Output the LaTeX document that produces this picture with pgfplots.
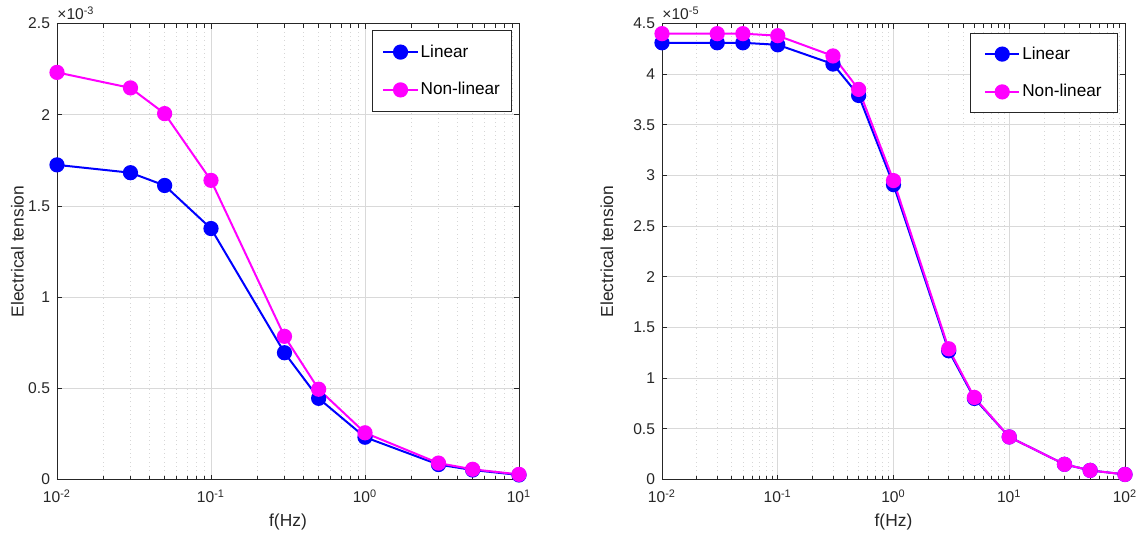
\documentclass[border=0pt]{standalone}
\usepackage{pgfplots}
\pgfplotsset{compat=1.18}
\usepackage{fontspec}
\setmainfont{Liberation Sans}

\definecolor{gridc}{gray}{0.85}
\definecolor{mgridc}{gray}{0.84}
\definecolor{axc}{gray}{0.15}
\definecolor{lblue}{rgb}{0,0,1}
\definecolor{lmag}{rgb}{1,0,1}

\begin{document}
\begin{tikzpicture}
\useasboundingbox (-28.5pt,-29.25pt) rectangle (541.5pt,239.75pt);

\begin{axis}[at={(0,0)}, anchor=south west, clip=false,
  scale only axis, width=231pt, height=228pt, xmode=log,
  axis line style={axc, line width=0.4pt},
  tick style={axc, line width=0.4pt},
  major tick length=2.5pt, minor tick length=2pt,
  xmajorgrids, ymajorgrids, xminorgrids,
  major grid style={gridc, line width=0.4pt},
  minor grid style={mgridc, line width=0.35pt, dash pattern=on 0.35pt off 1.8pt},
  tick label style={font=\fontsize{7.8}{9}\selectfont, text=axc},
  xticklabel style={yshift=-1.5pt},
  label style={font=\fontsize{8.7}{10}\selectfont, text=axc},
  xlabel={f(Hz)}, ylabel={Electrical tension},
  xlabel style={at={(axis description cs:0.5,-0.093)}, anchor=center},
  ylabel style={at={(axis description cs:-0.0855,0.5)}, anchor=center},
  legend style={at={(axis description cs:0.985,0.986)}, anchor=north east,
    font=\fontsize{8.6}{10}\selectfont, draw=axc, line width=0.4pt,
    inner xsep=4.85pt, inner ysep=4.9pt, row sep=6.9pt, text=black,
    nodes={inner xsep=1pt, inner ysep=2pt, text height=6.5pt, text depth=1.5pt}},
  legend cell align=left,
  xmin=0.01, xmax=10, ymin=0, ymax=2.5,
  xtick={0.01,0.1,1,10},
  xticklabels={10\textsuperscript{-2},10\textsuperscript{-1},10\textsuperscript{0},10\textsuperscript{1}},
  ytick={0,0.5,1,1.5,2,2.5},
  yticklabels={0,0.5,1,1.5,2,2.5},
]
\addplot[lblue, line width=1pt, mark=*, mark size=3.3pt, mark options={fill=lblue}] coordinates {
 (0.01,1.725) (0.03,1.682) (0.05,1.612) (0.1,1.376) (0.3,0.695) (0.5,0.445) (1,0.232) (3,0.082) (5,0.052) (10,0.025)};
\addlegendentry{Linear}
\addplot[lmag, line width=1pt, mark=*, mark size=3.3pt, mark options={fill=lmag}] coordinates {
 (0.01,2.232) (0.03,2.147) (0.05,2.006) (0.1,1.640) (0.3,0.785) (0.5,0.495) (1,0.256) (3,0.090) (5,0.056) (10,0.028)};
\addlegendentry{Non-linear}
\node[anchor=base west, font=\fontsize{7.8}{9}\selectfont, text=axc, inner sep=0pt, yshift=1.8pt] at (rel axis cs:0,1) {×10\textsuperscript{-3}};
\end{axis}

\begin{axis}[at={(302.5pt,0)}, anchor=south west, clip=false,
  scale only axis, width=231.5pt, height=228pt, xmode=log,
  axis line style={axc, line width=0.4pt},
  tick style={axc, line width=0.4pt},
  major tick length=2.5pt, minor tick length=2pt,
  xmajorgrids, ymajorgrids, xminorgrids,
  major grid style={gridc, line width=0.4pt},
  minor grid style={mgridc, line width=0.35pt, dash pattern=on 0.35pt off 1.8pt},
  tick label style={font=\fontsize{7.8}{9}\selectfont, text=axc},
  xticklabel style={yshift=-1.5pt},
  label style={font=\fontsize{8.7}{10}\selectfont, text=axc},
  xlabel={f(Hz)}, ylabel={Electrical tension},
  xlabel style={at={(axis description cs:0.5,-0.093)}, anchor=center},
  ylabel style={at={(axis description cs:-0.119,0.5)}, anchor=center},
  legend style={at={(axis description cs:0.985,0.979)}, anchor=north east,
    font=\fontsize{8.6}{10}\selectfont, draw=axc, line width=0.4pt,
    inner xsep=7pt, inner ysep=4.3pt, row sep=6.9pt, text=black,
    nodes={inner xsep=1pt, inner ysep=2pt, text height=6.5pt, text depth=1.5pt}},
  legend cell align=left,
  xmin=0.01, xmax=100, ymin=0, ymax=4.5,
  xtick={0.01,0.1,1,10,100},
  xticklabels={10\textsuperscript{-2},10\textsuperscript{-1},10\textsuperscript{0},10\textsuperscript{1},10\textsuperscript{2}},
  ytick={0,0.5,1,1.5,2,2.5,3,3.5,4,4.5},
  yticklabels={0,0.5,1,1.5,2,2.5,3,3.5,4,4.5},
]
\addplot[lblue, line width=1pt, mark=*, mark size=3.3pt, mark options={fill=lblue}] coordinates {
 (0.01,4.31) (0.03,4.31) (0.05,4.31) (0.1,4.29) (0.3,4.10) (0.5,3.79) (1,2.91) (3,1.27) (5,0.80) (10,0.42) (30,0.15) (50,0.09) (100,0.05)};
\addlegendentry{Linear}
\addplot[lmag, line width=1pt, mark=*, mark size=3.3pt, mark options={fill=lmag}] coordinates {
 (0.01,4.40) (0.03,4.40) (0.05,4.40) (0.1,4.38) (0.3,4.18) (0.5,3.85) (1,2.95) (3,1.29) (5,0.81) (10,0.42) (30,0.15) (50,0.09) (100,0.05)};
\addlegendentry{Non-linear}
\node[anchor=base west, font=\fontsize{7.8}{9}\selectfont, text=axc, inner sep=0pt, yshift=1.8pt] at (rel axis cs:0,1) {×10\textsuperscript{-5}};
\end{axis}
\end{tikzpicture}
\end{document}
